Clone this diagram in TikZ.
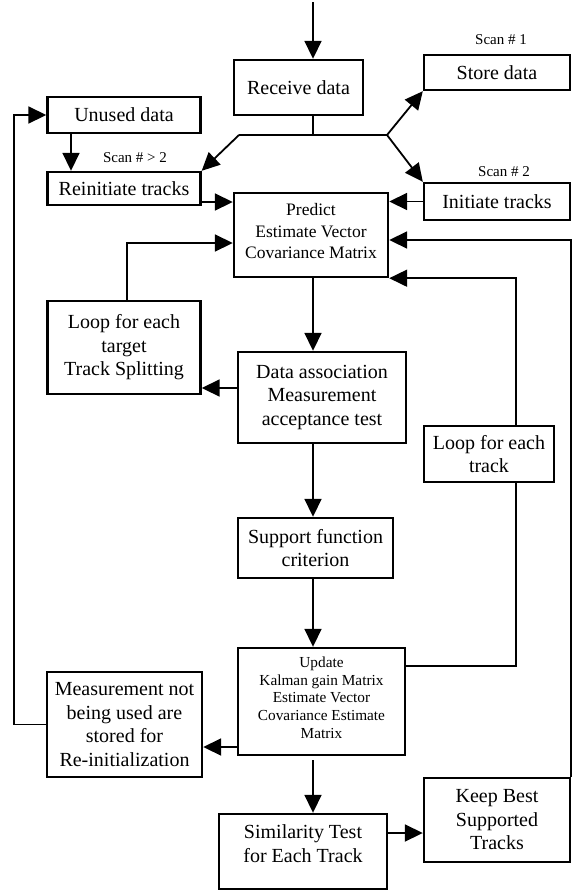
\documentclass[tikz,border=0pt]{standalone}
\usepackage{fontspec}
\setmainfont{Liberation Serif}
\usetikzlibrary{arrows.meta}

\begin{document}
\begin{tikzpicture}[x=1pt,y=-1pt,
        every node/.style={inner sep=2pt,align=center,font=\fontsize{20}{23.5}\selectfont},
        box/.style 2 args={draw,line width=2.4pt,minimum width=#1pt,minimum height=#2pt},
        small/.style={font=\fontsize{17.5}{21.5}\selectfont},
        tiny/.style={font=\fontsize{15.3}{17.6}\selectfont},
        scan/.style={font=\fontsize{15}{17}\selectfont},
        conn/.style={line width=1.8pt},
        flow/.style={conn,-{Triangle[length=18pt,width=17pt]}}]
    \useasboundingbox (0,0) rectangle (573,892);
    \coordinate (in) at (313,2);
    \coordinate (bl) at (239,135);
    \coordinate (br) at (387,135);
        \node[box={129}{55}] (recv) at (298.5,87.5) {Receive data};
        \node[box={146}{35}] (store) at (497,72.5) {Store data};
        \node[box={153}{36}] (unused) at (124,115) {Unused data};
        \node[box={153}{33}] (reinit) at (124,188.5) {Reinitiate tracks};
        \node[box={146}{37}] (init) at (497,201.5) {Initiate tracks};
        \node[box={154}{84},small,text depth=8pt] (pred) at (311,235) {Predict\\Estimate Vector\\Covariance Matrix};
        \node[box={153}{93}] (target) at (124,347.5) {Loop for each\\target\\Track Splitting};
        \node[box={168}{91}] (assoc) at (322,397.5) {Data association\\Measurement\\acceptance test};
        \node[box={130}{56}] (looptrk) at (489,454) {Loop for each\\track};
        \node[box={155}{60}] (support) at (315.5,548) {Support function\\criterion};
        \node[box={167}{107},tiny,text depth=8pt] (update) at (321.5,701.5) {Update\\Kalman gain Matrix\\Estimate Vector\\Covariance Estimate\\Matrix};
        \node[box={155}{105}] (meas) at (124.5,724.5) {Measurement not\\being used are\\stored for\\Re-initialization};
        \node[box={168}{75},text depth=16pt] (simil) at (303,851.5) {Similarity Test\\for Each Track};
        \node[box={146}{84}] (keep) at (497,820) {Keep Best\\Supported\\Tracks};
        \node[scan] (s1) at (501,40) {Scan \# 1};
        \node[scan] (s3) at (135,158) {Scan \# > 2};
        \node[scan] (s2) at (504,172) {Scan \# 2};

    \draw[flow] (in) -- (in |- recv.north);
    \draw[conn] (recv.south -| in) -- (in |- bl);
    \draw[conn] (bl) -- (br);
    \draw[flow] (bl) -- (reinit.north east);
    \draw[flow] (br) -- (store.south west);
    \draw[flow] (br) -- (init.north west);
    \draw[flow] ([xshift=-53]unused.south) -- ([xshift=-53]reinit.north);
    \draw[flow] ([yshift=-13.5]reinit.east) -- ([yshift=-13.5]reinit.east -| pred.west);
    \draw[flow] (init.west) -- (init.west -| pred.east);
    \draw[flow] ([xshift=3]target.north) |- ([yshift=-8]pred.west);
    \draw[flow] (keep.north east) |- ([yshift=-5]pred.east);
    \draw[flow] ([xshift=27]looptrk.north) |- (pred.south east);
    \draw[conn] ([yshift=35.5]update.east) -| ([xshift=27]looptrk.south);
    \draw[flow] (pred.south -| in) -- (assoc.north -| in);
    \draw[flow] ([yshift=9.5]assoc.west) -- ([yshift=9.5]assoc.west -| target.east);
    \draw[flow] (assoc.south -| in) -- (support.north -| in);
    \draw[flow] (support.south -| in) -- (update.north -| in);
    \draw[flow] ([yshift=-45.5]update.west) -- ([yshift=-45.5]update.west -| meas.east);
    \draw[flow] (meas.west) -- ++(-32,0) |- (unused.west);
    \draw[flow,shorten <=4pt] (update.south -| in) -- (simil.north -| in);
    \draw[flow] ([yshift=18.5]simil.east) -- ([yshift=18.5]simil.east -| keep.west);
\end{tikzpicture}
\end{document}
